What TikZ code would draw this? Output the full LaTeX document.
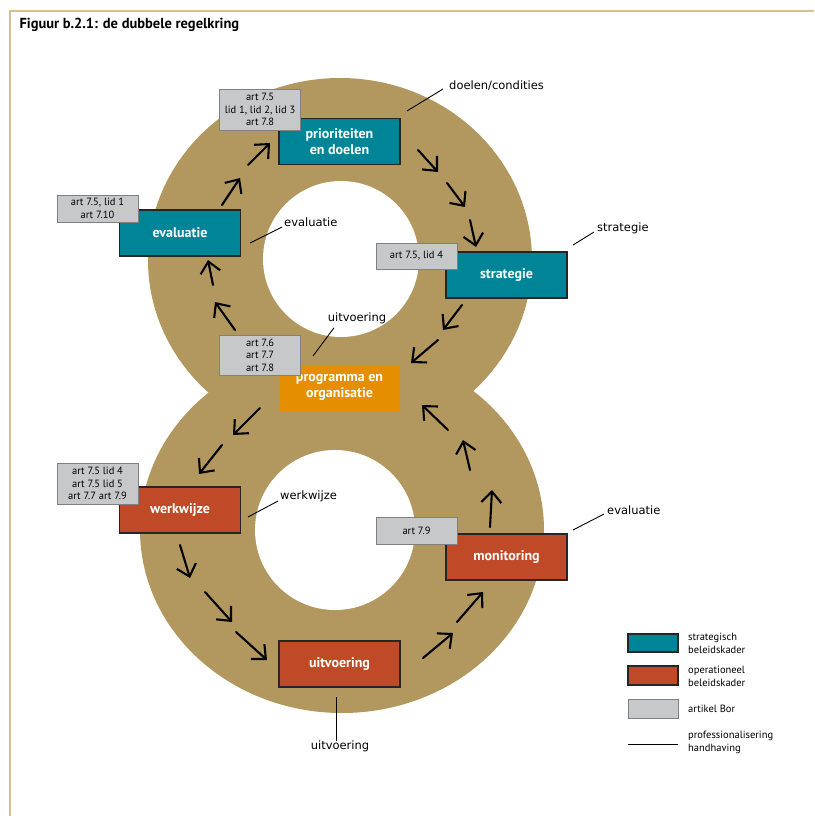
\documentclass[tikz,border=0pt]{standalone}
\usepackage{fontspec}
\setmainfont{PT Sans}
\newfontfamily\labelfont{DejaVu Sans}
\usetikzlibrary{arrows.meta}

\definecolor{ringtan}{RGB}{178,152,95}
\definecolor{kaderteal}{RGB}{0,133,152}
\definecolor{kaderred}{RGB}{192,74,40}
\definecolor{kaderorange}{RGB}{228,142,0}
\definecolor{borgray}{RGB}{198,200,202}
\definecolor{framelijn}{RGB}{212,192,142}

\tikzset{
  kader/.style={draw=black!85, line width=1.3pt, minimum width=121pt, minimum height=46pt,
    text=white, font=\bfseries\fontsize{14}{16}\selectfont, align=center, inner sep=0pt},
  bor/.style={draw=black!50, fill=borgray, line width=0.9pt, minimum width=81pt,
    font=\fontsize{10.5}{12.5}\selectfont, align=center, inner sep=0pt},
  pijl/.style={line width=2.1pt, line cap=round, -{Straight Barb[length=11pt,width=20pt,line width=2.1pt]}},
  leader/.style={line width=0.9pt},
  opmerking/.style={font=\labelfont\fontsize{11.5}{13}\selectfont, inner sep=1pt},
  legtxt/.style={font=\fontsize{10.5}{13}\selectfont, align=left, anchor=west, inner sep=0pt}
}

\begin{document}
\begin{tikzpicture}[x=1pt, y=-1pt]
    \useasboundingbox (0,0) rectangle (814,816);

    % Frame
    \draw[framelijn, line width=1.2pt] (10,816) -- (10,11) -- (814,11);
    \node[anchor=west, font=\bfseries\fontsize{14.5}{16}\selectfont] (titel) at (16,25) {Figuur b.2.1: de dubbele regelkring};

    % The eight
    \fill[ringtan] (340,260) ellipse [x radius=192, y radius=182];
    \fill[ringtan] (342,530) ellipse [x radius=202, y radius=183];
    \fill[white] (341,259) circle [radius=78];
    \fill[white] (335,530) circle [radius=80];

    % Arrows, upper loop
    \draw[pijl] (235,330) -- (215,302);
    \draw[pijl] (213,285) -- (208,260);
    \draw[pijl] (222,205) -- (240,178);
    \draw[pijl] (248,165) -- (270,143);
    \draw[pijl] (418,150) -- (438,172);
    \draw[pijl] (447,183) -- (465,207);
    \draw[pijl] (470,220) -- (476,247);
    \draw[pijl] (462,305) -- (443,330);
    \draw[pijl] (438,340) -- (411,363);

    % Arrows, lower loop
    \draw[pijl] (260,408) -- (233,435);
    \draw[pijl] (222,445) -- (199,474);
    \draw[pijl] (180,545) -- (190,578);
    \draw[pijl] (205,592) -- (232,622);
    \draw[pijl] (236,632) -- (267,660);
    \draw[pijl] (423,658) -- (453,633);
    \draw[pijl] (457,622) -- (483,592);
    \draw[pijl] (490,527) -- (492,490);
    \draw[pijl] (470,470) -- (463,440);
    \draw[pijl] (448,430) -- (422,405);

    % Strategic boxes
    \node[kader, fill=kaderteal] (doelen) at (339.5,141.5) {prioriteiten\\en doelen};
    \node[kader, fill=kaderteal] (evalA) at (180,233) {evaluatie};
    \node[kader, fill=kaderteal] (strat) at (506.5,275) {strategie};
    \node[kader, fill=kaderorange, draw=none] (progr) at (339.5,387.5) {programma en\\organisatie};

    % Operational boxes
    \node[kader, fill=kaderred] (werk) at (180,510) {werkwijze};
    \node[kader, fill=kaderred] (monit) at (506.5,557) {monitoring};
    \node[kader, fill=kaderred] (uitv) at (339.5,664) {uitvoering};

    % Articles Bor
    \node[bor, minimum height=41pt] (borA) at (260,109.5) {art 7.5\\lid 1, lid 2, lid 3\\art 7.8};
    \node[bor, minimum height=27pt] (borB) at (97.5,208.5) {art 7.5, lid 1\\art 7.10};
    \node[bor, minimum height=26pt] (borC) at (416.5,256) {art 7.5, lid 4};
    \node[bor, minimum height=40pt] (borD) at (260,355) {art 7.6\\art 7.7\\art 7.8};
    \node[bor, minimum height=41pt] (borE) at (97.5,483.5) {art 7.5 lid 4\\art 7.5 lid 5\\art 7.7 art 7.9};
    \node[bor, minimum height=27pt] (borF) at (416.5,530.5) {art 7.9};

    % Labels with leaders
    \node[opmerking, anchor=west] (ldoel) at (448,86) {doelen/condities};
    \node[opmerking, anchor=west] (levalA) at (283,222) {evaluatie};
    \node[opmerking, anchor=west] (lstrat) at (596,228) {strategie};
    \node[opmerking] (luitA) at (357,318) {uitvoering};
    \node[opmerking, anchor=west] (lwerk) at (279,496) {werkwijze};
    \node[opmerking, anchor=west] (levalB) at (606,510) {evaluatie};
    \node[opmerking] (luitB) at (340,746) {uitvoering};

    \coordinate (pdoel) at (407,111);
    \coordinate (pevalA) at (250,243);
    \coordinate (pstrat) at (573,245);
    \coordinate (puitA) at (313,356);
    \coordinate (pwerk) at (248,517);
    \coordinate (pevalB) at (573,530);
    \coordinate (puitB) at (336,697);
    \draw[leader] (pdoel) -- ([xshift=-5pt, yshift=-3pt]ldoel.west);
    \draw[leader] (pevalA) -- ([xshift=-1pt, yshift=-5pt]levalA.west);
    \draw[leader] (pstrat) -- ([xshift=-2pt, yshift=-4pt]lstrat.west);
    \draw[leader] (puitA) -- ([xshift=-23pt, yshift=-3pt]luitA.south);
    \draw[leader] (pwerk) -- ([xshift=-1pt, yshift=-5pt]lwerk.west);
    \draw[leader] (pevalB) -- ([xshift=-2pt, yshift=-4pt]levalB.west);
    \draw[leader] (puitB) -- ([xshift=-4pt, yshift=-2pt]luitB.north);

    % Legend
    \node[draw=black!85, line width=1.2pt, fill=kaderteal, minimum width=50pt, minimum height=18pt, inner sep=0pt] (legA) at (653,643) {};
    \node[draw=black!85, line width=1.2pt, fill=kaderred, minimum width=50pt, minimum height=19pt, inner sep=0pt] (legB) at (653,675.5) {};
    \node[draw=black!50, line width=0.9pt, fill=borgray, minimum width=50pt, minimum height=19pt, inner sep=0pt] (legC) at (653,708.5) {};
    \coordinate (legD1) at (628,744);
    \coordinate (legD2) at (678,744);
    \draw[leader] (legD1) -- (legD2);
    \node[legtxt] (legAt) at (688,643) {strategisch\\beleidskader};
    \node[legtxt] (legBt) at (688,676) {operationeel\\beleidskader};
    \node[legtxt] (legCt) at (688,709) {artikel Bor};
    \node[legtxt] (legDt) at (688,742) {professionalisering\\handhaving};
\end{tikzpicture}
\end{document}
